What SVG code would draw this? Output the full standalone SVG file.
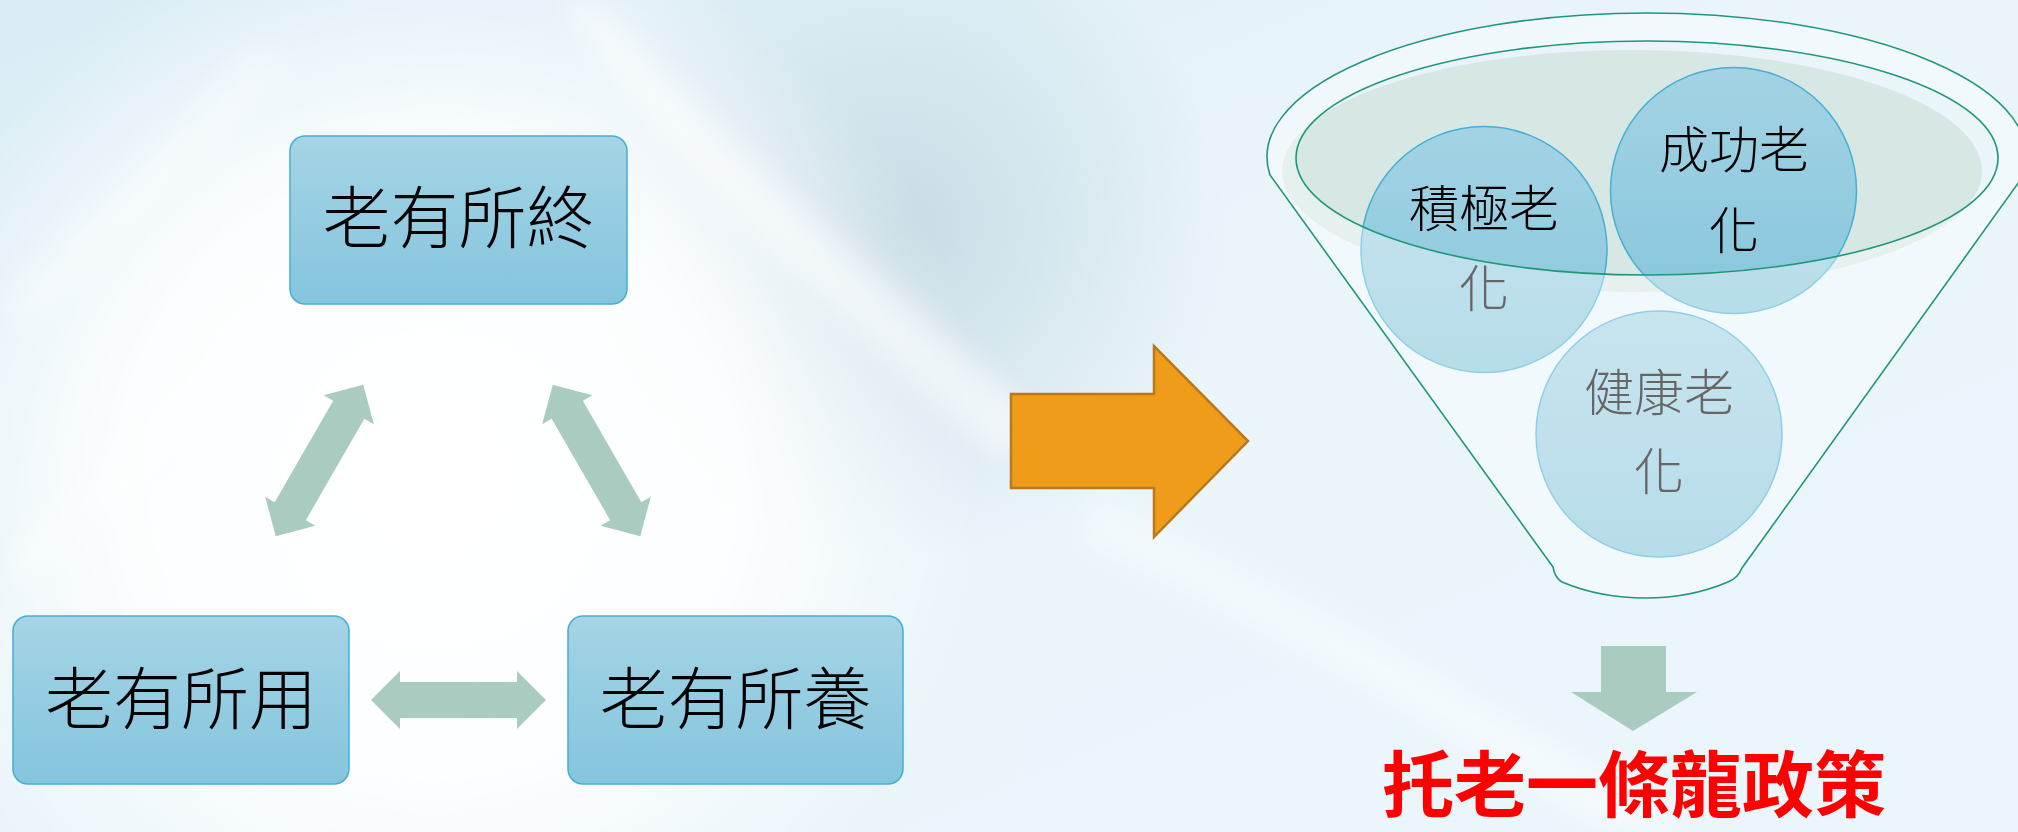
<svg xmlns="http://www.w3.org/2000/svg" width="2018" height="832" viewBox="0 0 2018 832">
<defs>
  <linearGradient id="bg" x1="0" y1="0" x2="1" y2="1">
    <stop offset="0" stop-color="#d9ecf5"/>
    <stop offset="0.45" stop-color="#eaf5fa"/>
    <stop offset="1" stop-color="#eaf6fb"/>
  </linearGradient>
  <radialGradient id="glow" cx="430" cy="470" r="560" gradientUnits="userSpaceOnUse">
    <stop offset="0" stop-color="#ffffff" stop-opacity="1"/>
    <stop offset="0.55" stop-color="#ffffff" stop-opacity="0.85"/>
    <stop offset="1" stop-color="#ffffff" stop-opacity="0"/>
  </radialGradient>
  <radialGradient id="shade" cx="900" cy="230" r="330" gradientUnits="userSpaceOnUse">
    <stop offset="0" stop-color="#c4d9e3" stop-opacity="0.9"/>
    <stop offset="1" stop-color="#c4d9e3" stop-opacity="0"/>
  </radialGradient>
  <linearGradient id="boxFill" x1="0" y1="0" x2="0" y2="1">
    <stop offset="0" stop-color="#a5d4e5"/>
    <stop offset="1" stop-color="#84c5de"/>
  </linearGradient>
  <linearGradient id="circFill" x1="0" y1="0" x2="0" y2="1">
    <stop offset="0" stop-color="#a3d3e4"/>
    <stop offset="1" stop-color="#87c6dc"/>
  </linearGradient>
  <filter id="blur" x="-20%" y="-20%" width="140%" height="140%">
    <feGaussianBlur stdDeviation="14"/>
  </filter>
  <style>
    .box { fill: url(#boxFill); stroke: #45afd2; stroke-width: 1.5; }
    .boxText { font-family: "Noto Sans CJK TC", "Noto Sans CJK SC", sans-serif; font-size: 68px; font-weight: 300; fill: #000; text-anchor: middle; }
    .dbl { fill: #aacbbf; }
    .circ { fill: url(#circFill); stroke: #45afd2; stroke-width: 1.5; }
    .circText { font-family: "Noto Sans CJK TC", "Noto Sans CJK SC", sans-serif; font-size: 50px; font-weight: 300; fill: #000; text-anchor: middle; }
    .funnelLine { fill: none; stroke: #1f977a; stroke-width: 1.6; }
  </style>
</defs>

<!-- background -->
<g id="background">
  <rect x="0" y="0" width="2018" height="832" fill="url(#bg)"/>
  <rect x="0" y="0" width="2018" height="832" fill="url(#shade)"/>
  <g filter="url(#blur)" fill="#ffffff">
    <path d="M600,0 C700,120 860,260 1040,420 L1000,460 C820,300 660,160 560,0 Z" opacity="0.55"/>
    <path d="M0,300 L260,40 L290,70 L30,330 Z" opacity="0.35"/>
    <path d="M0,560 L380,200 L400,230 L20,590 Z" opacity="0.3"/>
    <path d="M1100,500 C1300,600 1500,700 1700,832 L1600,832 C1420,720 1260,620 1080,540 Z" opacity="0.45"/>
  </g>
  <rect x="0" y="0" width="2018" height="832" fill="url(#glow)"/>
</g>

<!-- connectors -->
<g id="connectors">
  <path id="arrow-left-diag" class="dbl" transform="translate(319.5,460.5) rotate(-60)" d="M-87.5,0 L-58.5,-29 L-58.5,-18 L58.5,-18 L58.5,-29 L87.5,0 L58.5,29 L58.5,18 L-58.5,18 L-58.5,29 Z"/>
  <path id="arrow-right-diag" class="dbl" transform="translate(596.5,460.5) rotate(60)" d="M-87.5,0 L-58.5,-29 L-58.5,-18 L58.5,-18 L58.5,-29 L87.5,0 L58.5,29 L58.5,18 L-58.5,18 L-58.5,29 Z"/>
  <path id="arrow-bottom" class="dbl" transform="translate(458.5,700)" d="M-87.5,0 L-58.5,-29 L-58.5,-18 L58.5,-18 L58.5,-29 L87.5,0 L58.5,29 L58.5,18 L-58.5,18 L-58.5,29 Z"/>
  <path id="arrow-orange" d="M1011,394 L1154,394 L1154,346 L1248,441 L1154,537 L1154,488 L1011,488 Z" fill="#f09c1b" stroke="#b9781a" stroke-width="2.5" stroke-linejoin="miter"/>
  <path id="arrow-down" d="M1601,646 L1666,646 L1666,692 L1697,692 L1633,731 L1571,692 L1601,692 Z" fill="#aacbbf"/>
</g>

<!-- nodes -->
<g id="node-zhong">
  <rect class="box" x="290" y="136" width="337" height="168" rx="15" ry="15"/>
  <text class="boxText" x="458.5" y="243">老有所終</text>
</g>
<g id="node-yong">
  <rect class="box" x="13" y="616" width="336" height="168" rx="15" ry="15"/>
  <text class="boxText" x="181" y="724">老有所用</text>
</g>
<g id="node-yang">
  <rect class="box" x="568" y="616" width="335" height="168" rx="15" ry="15"/>
  <text class="boxText" x="735.5" y="724">老有所養</text>
</g>

<g id="node-funnel">
  <ellipse cx="1632" cy="171" rx="350" ry="121" fill="#d6e7e4"/>
  <g id="node-jiji">
    <circle class="circ" cx="1484" cy="249.5" r="123"/>
    <text class="circText" x="1484" y="227">積極老</text>
    <text class="circText" x="1484" y="307">化</text>
  </g>
  <g id="node-chenggong">
    <circle class="circ" cx="1733.5" cy="190.5" r="123"/>
    <text class="circText" x="1734" y="168">成功老</text>
    <text class="circText" x="1734" y="249">化</text>
  </g>
  <g id="node-jiankang">
    <circle class="circ" cx="1659" cy="434" r="123"/>
    <text class="circText" x="1659" y="411">健康老</text>
    <text class="circText" x="1659" y="490">化</text>
  </g>
  <!-- translucent funnel body over circles, hole at the bowl -->
  <path fill="#ffffff" fill-opacity="0.4" fill-rule="evenodd" d="M1553,567 L1270,175 A380,144 0 1 1 2024,175 L1742,568 Q1738,578 1728,582 Q1690,598 1646,598 Q1600,598 1562,582 Q1555,578 1553,567 Z M1296,158 A351,117 0 1 0 1998,158 A351,117 0 1 0 1296,158 Z"/>
  <path class="funnelLine" d="M1553,567 L1270,175 A380,144 0 1 1 2024,175 L1742,568 Q1738,578 1728,582 Q1690,598 1646,598 Q1600,598 1562,582 Q1555,578 1553,567 Z"/>
  <ellipse class="funnelLine" cx="1647" cy="158" rx="351" ry="117"/>
</g>

<g id="node-policy">
  <text x="1634" y="811" font-family="'Noto Sans CJK TC', 'Noto Sans CJK SC', sans-serif" font-size="72" font-weight="bold" fill="#ff0000" text-anchor="middle">托老一條龍政策</text>
</g>
</svg>
